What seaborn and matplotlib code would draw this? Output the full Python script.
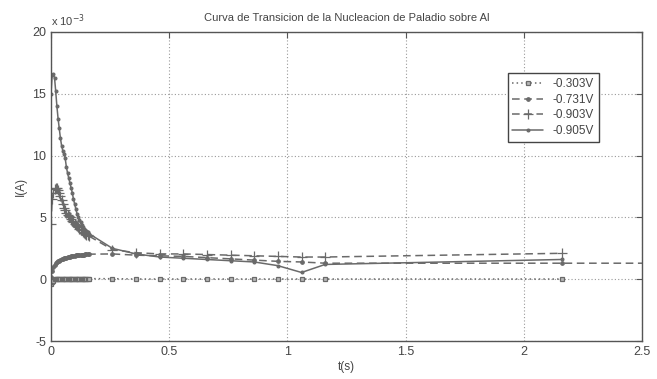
import matplotlib
matplotlib.use('Agg')
import matplotlib.pyplot as plt
import seaborn as sns
import pandas as pd

# tiempos (s): tramo denso al inicio y luego puntos espaciados
t_dense = [0.000, 0.005, 0.010, 0.015, 0.020, 0.025, 0.030, 0.035, 0.040, 0.045,
           0.050, 0.055, 0.060, 0.065, 0.070, 0.075, 0.080, 0.085, 0.090, 0.095,
           0.100, 0.105, 0.110, 0.115, 0.120, 0.125, 0.130, 0.135, 0.140, 0.145,
           0.150, 0.155, 0.160]
t_sparse = [0.26, 0.36, 0.46, 0.56, 0.66, 0.76, 0.86, 0.96, 1.06, 1.16, 2.16]
t_731_tail = [3.16]

# corriente en unidades de 1e-3 A
i_303_dense = [-0.40, -0.20, -0.10, 0.00, 0.02, 0.03, 0.03, 0.04, 0.04, 0.04,
               0.05, 0.05, 0.05, 0.05, 0.05, 0.05, 0.05, 0.05, 0.05, 0.05,
               0.05, 0.05, 0.05, 0.05, 0.05, 0.05, 0.05, 0.05, 0.05, 0.05,
               0.05, 0.05, 0.05]
i_303_sparse = [0.05, 0.02, 0.02, 0.02, 0.02, 0.02, 0.02, 0.02, 0.02, 0.02, 0.02]

i_731_dense = [0.20, 0.70, 1.00, 1.15, 1.30, 1.40, 1.45, 1.50, 1.55, 1.60,
               1.65, 1.70, 1.72, 1.75, 1.78, 1.80, 1.83, 1.86, 1.88, 1.90,
               1.92, 1.93, 1.95, 1.96, 1.97, 1.98, 1.99, 2.00, 2.00, 2.01,
               2.02, 2.02, 2.03]
i_731_sparse = [2.05, 1.95, 1.90, 1.85, 1.75, 1.65, 1.55, 1.45, 1.40, 1.30, 1.30]
i_731_tail = [1.30]

i_903_dense = [4.50, 6.50, 7.00, 7.30, 7.40, 7.40, 7.20, 7.00, 6.70, 6.40,
               6.10, 5.80, 5.60, 5.40, 5.20, 5.10, 5.00, 4.85, 4.70, 4.60,
               4.50, 4.40, 4.30, 4.20, 4.10, 4.00, 3.95, 3.85, 3.75, 3.70,
               3.60, 3.55, 3.50]
i_903_sparse = [2.40, 2.15, 2.05, 2.05, 2.00, 1.95, 1.90, 1.85, 1.80, 1.80, 2.10]

i_905_dense = [15.0, 16.5, 16.6, 16.3, 15.2, 14.0, 13.0, 12.2, 11.4, 10.8,
               10.4, 10.1, 9.80, 9.10, 8.60, 8.20, 7.80, 7.40, 7.00, 6.50,
               6.10, 5.70, 5.30, 5.00, 4.80, 4.60, 4.40, 4.25, 4.10, 4.00,
               3.90, 3.80, 3.70]
i_905_sparse = [2.50, 2.05, 1.80, 1.70, 1.60, 1.50, 1.40, 1.10, 0.55, 1.20, 1.60]

labels = ["-0.303V", "-0.731V", "-0.903V", "-0.905V"]

series = {
    "-0.303V": (t_dense + t_sparse, i_303_dense + i_303_sparse),
    "-0.731V": (t_dense + t_sparse + t_731_tail, i_731_dense + i_731_sparse + i_731_tail),
    "-0.903V": (t_dense + t_sparse, i_903_dense + i_903_sparse),
    "-0.905V": (t_dense + t_sparse, i_905_dense + i_905_sparse),
}

guion = (0, (5, 3))
estilos = {
    "-0.303V": dict(linestyle=(0, (1, 2)), marker='s', markersize=3.5, markerfacecolor='#b8b8b8'),
    "-0.731V": dict(linestyle=guion, marker='.', markersize=5),
    "-0.903V": dict(linestyle=guion, marker='+', markersize=7),
    "-0.905V": dict(linestyle='-', marker='.', markersize=4),
}

sns.set_style("white")
plt.rcParams['font.family'] = ['Liberation Sans Narrow', 'Liberation Sans', 'DejaVu Sans']

fig = plt.figure(figsize=(6.57, 3.79), dpi=100)
ax = fig.add_axes([0.0776, 0.100, 0.8994, 0.8156])

gris = '#6a6a6a'
for lab in labels:
    t, i = series[lab]
    df = pd.DataFrame({"t": t, "i": i})
    sns.lineplot(data=df, x="t", y="i", ax=ax, sort=False, estimator=None,
                 color=gris, linewidth=1.1, markeredgecolor=gris,
                 markeredgewidth=0.9, label=lab, **estilos[lab])

ax.set_xlim(0, 2.5)
ax.set_ylim(-5, 20)
ax.set_xticks([0, 0.5, 1, 1.5, 2, 2.5])
ax.set_xticklabels(["0", "0.5", "1", "1.5", "2", "2.5"])
ax.set_yticks([-5, 0, 5, 10, 15, 20])
ax.set_yticklabels(["-5", "0", "5", "10", "15", "20"])
ax.grid(True, linestyle=(0, (1, 2)), color='#999999', linewidth=0.8)
ax.tick_params(direction='in', length=4, color='#555555', labelsize=9,
               labelcolor='#444444', top=True, right=True)
for s in ax.spines.values():
    s.set_color('#555555')
    s.set_linewidth(1.0)

ax.set_title("Curva de Transicion de la Nucleacion de Paladio sobre Al",
             fontsize=8, color='#444444', pad=8)
ax.set_xlabel("t(s)", fontsize=8.5, color='#444444', labelpad=2)
ax.set_ylabel("I(A)", fontsize=8.5, color='#444444', labelpad=4)
ax.text(0.0, 1.01, r"x 10$^{-3}$", transform=ax.transAxes, fontsize=8,
        color='#444444', ha='left', va='bottom')

leg = ax.legend(loc='upper left', bbox_to_anchor=(0.763, 0.885), fontsize=8.5,
                frameon=True, fancybox=False, framealpha=1, edgecolor='#444444',
                handlelength=2.6, borderpad=0.4, labelspacing=0.3)
leg.get_frame().set_linewidth(1.0)
for txt in leg.get_texts():
    txt.set_color('#444444')

fig.savefig("out.png", dpi=100)
